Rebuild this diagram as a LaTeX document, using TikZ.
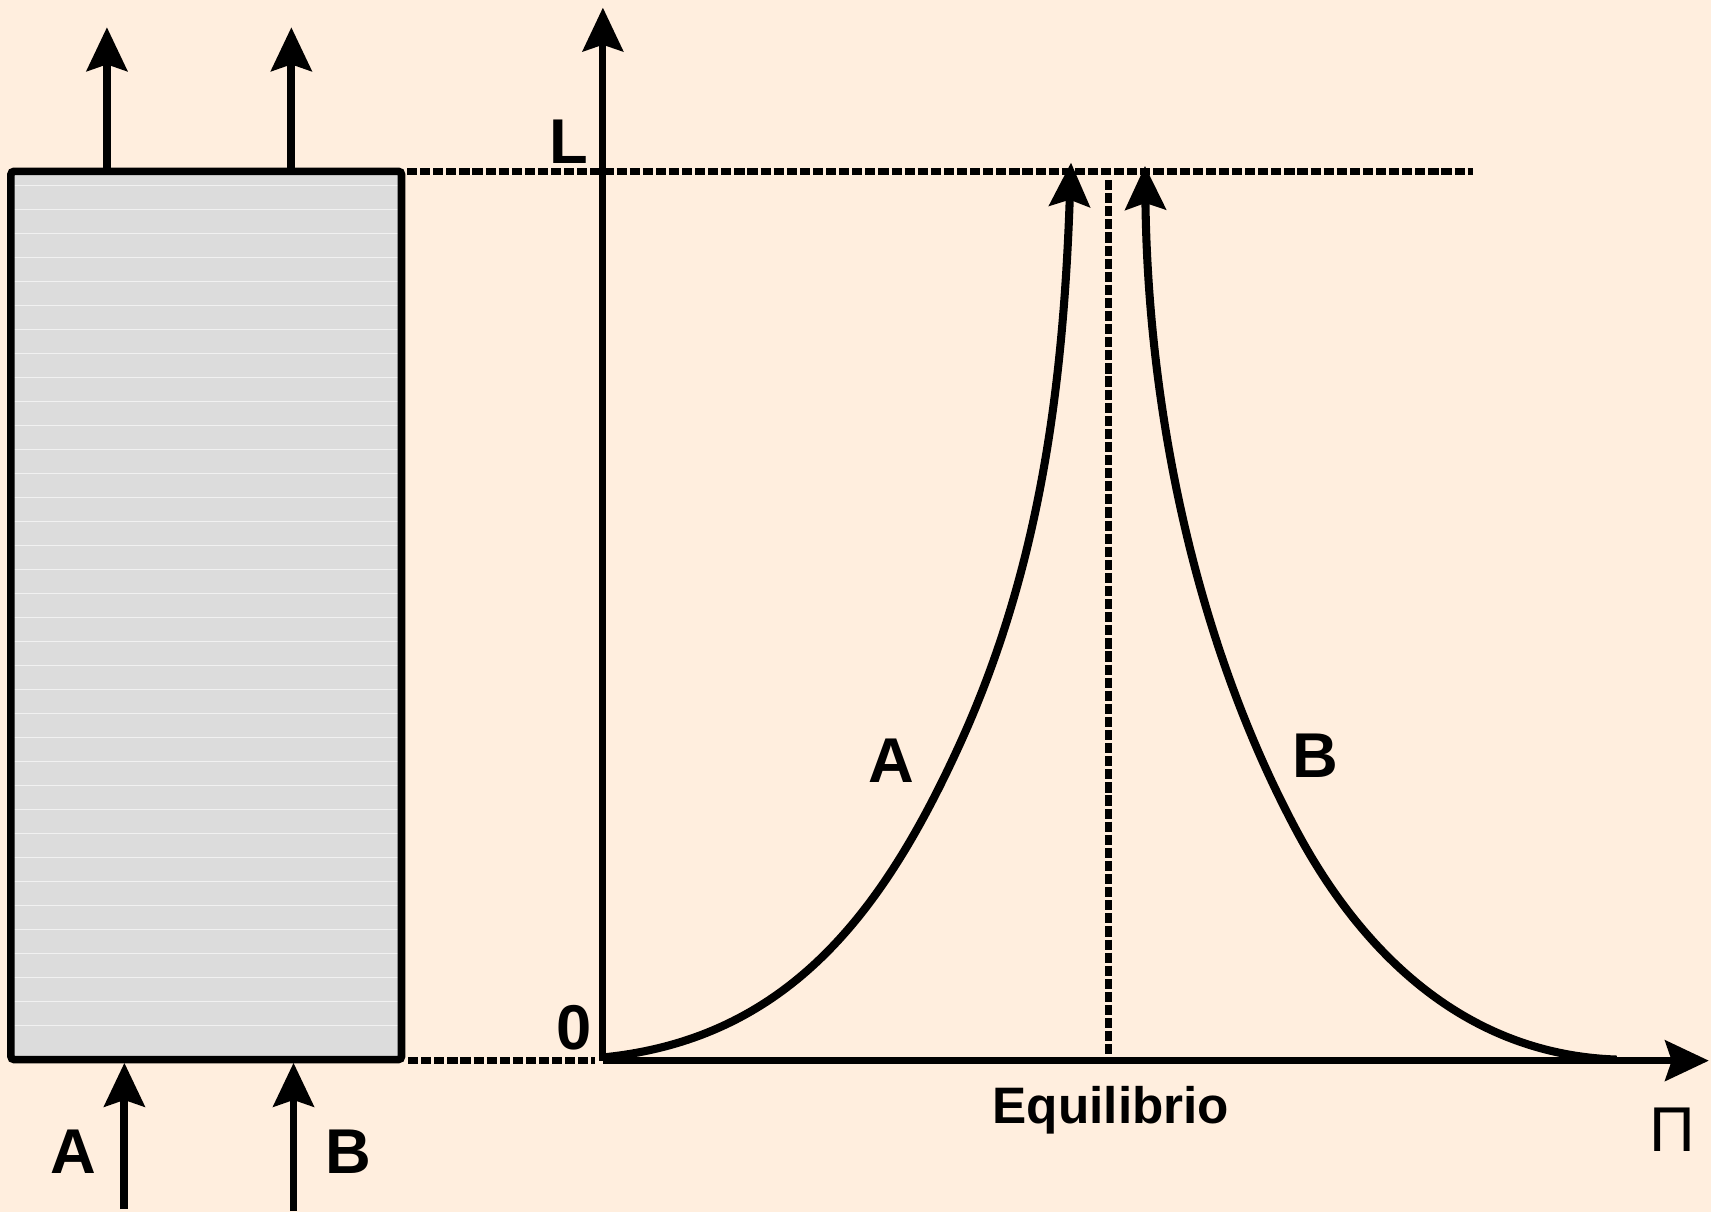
\documentclass[tikz,border=0pt]{standalone}
\usepackage{fontspec}
\setmainfont{Liberation Sans}
\usetikzlibrary{arrows.meta}
\definecolor{bgpeach}{RGB}{255,238,222}
\definecolor{boxgray}{RGB}{220,220,220}
\begin{document}
\begin{tikzpicture}[x=1pt,y=-1pt,
  thick line/.style={line width=7pt},
  arr/.style={line width=7.2pt,-{Stealth[length=40pt,width=37pt,inset=6pt]}},
  axis arr/.style={arr,line width=6.4pt},
  curve/.style={arr,line width=7.4pt,line join=round},
  dashline/.style={line width=6pt,dash pattern=on 9.3pt off 2.7pt},
  lbl/.style={inner sep=0pt,font=\fontsize{58}{60}\selectfont\bfseries},
  small lbl/.style={inner sep=0pt,font=\fontsize{47}{50}\selectfont\bfseries}]
\fill[bgpeach] (0,0) rectangle (1568,1111);
\useasboundingbox (0,0) rectangle (1568,1111);
% column
\fill[boxgray] (10,157) rectangle (368,971);
\foreach \yy in {170,192,...,960} {\draw[white,line width=1.2pt,opacity=0.6] (13,\yy) -- (365,\yy);}
\draw[thick line,rounded corners=3pt] (10,157) rectangle (368,971);
\coordinate (top1) at (98,157);
\coordinate (top2) at (267,157);
\coordinate (tip1) at (98,25);
\coordinate (tip2) at (267,25);
\draw[arr] (top1) -- (tip1);
\draw[arr] (top2) -- (tip2);
\coordinate (inA) at (114,1108);
\coordinate (inB) at (269,1110);
\coordinate (botA) at (114,974);
\coordinate (botB) at (269,974);
\draw[arr] (inA) -- (botA);
\draw[arr] (inB) -- (botB);
\node[lbl] (labA) at (67,1055) {A};
\node[lbl] (labB) at (319,1055) {B};
% axes
\coordinate (O) at (552.5,972);
\coordinate (ytip) at (552.5,7);
\coordinate (xtip) at (1566,972);
\draw[axis arr] (O) -- (ytip);
\draw[axis arr] (O) -- (xtip);
\node[lbl] (L) at (521,130) {L};
\node[lbl] (zero) at (526,942) {0};
\node[lbl,font=\fontsize{58}{60}\selectfont] (Pi) at (1533,1035) {Π};
\node[small lbl,anchor=base] (eq) at (1018,1030) {Equilibrio};
% dashed guides
\coordinate (Lstart) at (373,157);
\coordinate (Lend) at (1350,157);
\draw[dashline] (Lstart) -- (Lend);
\coordinate (zstart) at (374,972);
\coordinate (zend) at (545,972);
\draw[dashline] (zstart) -- (zend);
\coordinate (eqtop) at (1016,165);
\coordinate (eqbot) at (1016,972);
\draw[dashline] (eqtop) -- (eqbot);
% curves
\coordinate (Astart) at (553,969);
\coordinate (Amid) at (880,681);
\coordinate (Aend) at (981.5,149);
\draw[curve] (Astart) .. controls (723,952) and (810,835) .. (Amid)
  .. controls (954.5,517) and (974.5,349) .. (Aend);
\coordinate (Bstart) at (1481.6,971);
\coordinate (Bmid) at (1188,761);
\coordinate (Bend) at (1049.3,152);
\draw[curve] (Bstart) .. controls (1331.6,966) and (1239.8,858) .. (Bmid)
  .. controls (1093.8,584.6) and (1052,372) .. (Bend);
\node[lbl] (cA) at (817,697) {A};
\node[lbl] (cB) at (1205,693) {B};
\end{tikzpicture}
\end{document}
